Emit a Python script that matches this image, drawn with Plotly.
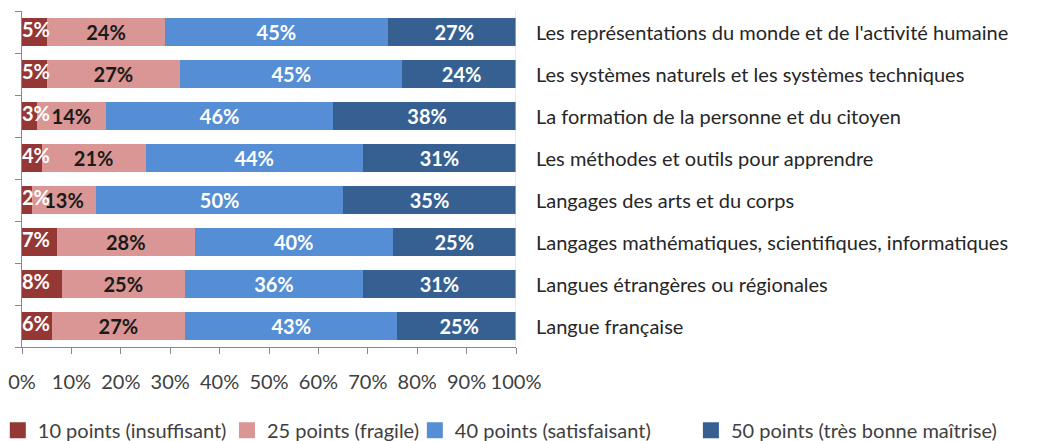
import plotly.graph_objects as go

categories = [
    "Langue française",
    "Langues étrangères ou régionales",
    "Langages mathématiques, scientifiques, informatiques",
    "Langages des arts et du corps",
    "Les méthodes et outils pour apprendre",
    "La formation de la personne et du citoyen",
    "Les systèmes naturels et les systèmes techniques",
    "Les représentations du monde et de l'activité humaine",
]
series_names = [
    "10 points (insuffisant)",
    "25 points (fragile)",
    "40 points (satisfaisant)",
    "50 points (très bonne maîtrise)",
]
insuffisant = [6, 8, 7, 2, 4, 3, 5, 5]
fragile = [27, 25, 28, 13, 21, 14, 27, 24]
satisfaisant = [43, 36, 40, 50, 44, 46, 45, 45]
tres_bonne = [25, 31, 25, 35, 31, 38, 24, 27]
x_ticks = [0, 10, 20, 30, 40, 50, 60, 70, 80, 90, 100]

colors = ["#953735", "#D99694", "#558ED5", "#376092"]
text_colors = ["white", "#1a1a1a", "white", "white"]
series_vals = [insuffisant, fragile, satisfaisant, tres_bonne]
legend_ids = ["legend", "legend2", "legend3", "legend4"]
legend_xref = ["paper", "container", "container", "container"]
legend_x = [-0.049, 0.2126, 0.395, 0.663]

FONT = "Lato"
ypos = list(range(len(categories)))
fig = go.Figure()
for k, (name, vals, col, tcol) in enumerate(zip(series_names, series_vals, colors, text_colors)):
    fig.add_trace(go.Bar(
        y=ypos, x=[v / 100 for v in vals], name=name, orientation="h",
        marker=dict(color=col, line=dict(width=0)),
        text=[f"{v}%" for v in vals],
        textposition="none" if k == 0 else "inside", textangle=0,
        insidetextanchor="middle",
        textfont=dict(family=FONT, size=20, color=tcol, weight="bold"),
        hoverinfo="skip", showlegend=False,
    ))

# labels of the thin first segments, drawn above the bars so they may overflow
fig.add_trace(go.Scatter(
    x=[0] * len(ypos), y=ypos, mode="text", text=[f"{v}%" for v in insuffisant],
    textposition="middle right",
    textfont=dict(family=FONT, size=20, color="white", weight="bold"),
    hoverinfo="skip", showlegend=False,
))

# legend swatches (one legend per entry, placed like the original)
for name, col, lid in zip(series_names, colors, legend_ids):
    fig.add_trace(go.Scatter(
        x=[None], y=[None], mode="markers", name=name, legend=lid,
        marker=dict(symbol="square", size=16, color=col),
        showlegend=True, hoverinfo="skip",
    ))

for i, c in enumerate(categories):
    fig.add_annotation(x=1, xref="paper", y=i, yref="y", text=c, showarrow=False,
                       xanchor="left", xshift=18,
                       font=dict(family=FONT, size=20, color="#262626"))

fig.add_shape(type="line", xref="x", yref="paper", x0=1, x1=1, y0=0, y1=1,
              line=dict(color="#d9d9d9", width=1))

legend_common = dict(orientation="h", xanchor="left",
                     y=-0.248, yanchor="middle", itemsizing="trace",
                     font=dict(family=FONT, size=20, color="#404040"),
                     bgcolor="rgba(0,0,0,0)", itemwidth=30)

# page body has an 8px margin: figure is offset by (8, 8)
layout_legends = {lid: dict(legend_common, x=lx, xref=xr)
                  for lid, lx, xr in zip(legend_ids, legend_x, legend_xref)}
fig.update_layout(
    barmode="stack", bargap=0.32,
    width=1030, height=433,
    margin=dict(l=14, r=522, t=3, b=94, autoexpand=False),
    plot_bgcolor="white", paper_bgcolor="white",
    showlegend=True,
    uniformtext=dict(minsize=20, mode="show"),
    xaxis=dict(range=[0, 1], tickvals=[t / 100 for t in x_ticks], automargin=False,
               ticktext=[f"{t}%" for t in x_ticks], showgrid=False, zeroline=False,
               showline=True, linecolor="#888888", ticks="outside", ticklen=6,
               tickcolor="#888888", ticklabelstandoff=11,
               tickfont=dict(family=FONT, size=20, color="#404040")),
    yaxis=dict(range=[-0.5, 7.5], tickvals=[i - 0.5 for i in range(len(categories) + 1)],
               showticklabels=False, showgrid=False, zeroline=False, automargin=False,
               showline=True, linecolor="#888888", ticks="outside", ticklen=6,
               tickcolor="#888888"),
    **layout_legends,
)

fig.write_html("out.html")
